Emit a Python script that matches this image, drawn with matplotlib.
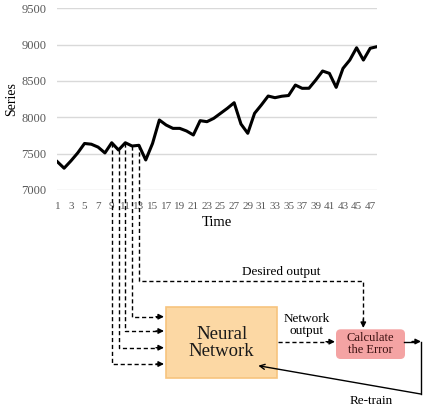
import matplotlib.pyplot as plt
from matplotlib.patches import Rectangle, FancyBboxPatch
import numpy as np

plt.rcParams['font.family'] = ['Liberation Serif', 'DejaVu Serif']

# series
time = list(range(1, 49))
series = [7390, 7300, 7400, 7510, 7640, 7630, 7590, 7510, 7650, 7550,
          7650, 7605, 7615, 7413, 7640, 7963, 7894, 7848, 7848, 7812,
          7757, 7954, 7940, 7986, 8055, 8124, 8201, 7908, 7780, 8055,
          8170, 8293, 8270, 8290, 8300, 8444, 8399, 8400, 8513, 8637,
          8605, 8412, 8673, 8788, 8957, 8788, 8950, 8972]
y_ticks = [7000, 7500, 8000, 8500, 9000, 9500]
x_ticks = list(range(1, 48, 2))
window = [9, 10, 11, 12, 13]   # inputs fed to the network
target = 13                    # desired output point

W, H = 436, 416
fig = plt.figure(figsize=(W / 100, H / 100), dpi=100)

# chart area
ax = fig.add_axes([57.3 / W, 1 - 190 / H, (377 - 57.3) / W, (190 - 8.3) / H])
ax.plot(time, series, color='black', lw=2.2, zorder=3)
ax.set_xlim(1, 48)
ax.set_ylim(7000, 9500)
ax.set_yticks(y_ticks)
ax.set_xticks(x_ticks)
ax.grid(axis='y', color='#d9d9d9', lw=1)
ax.set_axisbelow(True)
for s in ax.spines.values():
    s.set_visible(False)
ax.tick_params(length=0, colors='#595959')
ax.tick_params(axis='y', labelsize=9, pad=8)
ax.tick_params(axis='x', labelsize=8, pad=9)
ax.set_xlabel('Time', fontsize=10.5, labelpad=3)
ax.set_ylabel('Series', fontsize=10)
ax.yaxis.set_label_coords(-0.123, 0.5)

# overlay in pixel coords for the diagram
ov = fig.add_axes([0, 0, 1, 1])
ov.set_xlim(0, W)
ov.set_ylim(H, 0)
ov.axis('off')
ov.patch.set_alpha(0)


def to_px(t, v):
    d = ax.transData.transform((t, v))
    return ov.transData.inverted().transform(d)


dash = dict(color='black', lw=1, ls=(0, (3, 2)))


def head(x0, y0, x1, y1):
    ov.annotate('', xy=(x1, y1), xytext=(x0, y0),
                arrowprops=dict(arrowstyle='-|>', color='black', lw=1,
                                mutation_scale=8, shrinkA=0, shrinkB=0))


# boxes
nn = Rectangle((166, 306.7), 111.3, 71.6, facecolor='#fcd8a4',
               edgecolor='#f7c47e', lw=1.2, zorder=2)
ov.add_patch(nn)
ov.text(221.7, 343, 'Neural\nNetwork', fontsize=13.5, ha='center',
        va='center', linespacing=1.05, color='#1a1a1a', zorder=3)
ce = FancyBboxPatch((336.7, 330), 67.6, 28.3, boxstyle='round,pad=0,rounding_size=4',
                    facecolor='#f4a3a3', edgecolor='#f4a3a3', zorder=2)
ov.add_patch(ce)
ov.text(370.5, 344.2, 'Calculate\nthe Error', fontsize=9, ha='center',
        va='center', color='#3a1010', linespacing=1.0, zorder=3)

# input lines from the window points
levels = [364, 347.7, 331, 316.7]
for t, yl in zip(window[:4], levels):
    x0, y0 = to_px(t, series[t - 1])
    ov.plot([x0, x0, 158], [y0, yl, yl], **dash)
    head(156, yl, 164, yl)

# desired output line
x0, y0 = to_px(target, series[target - 1])
ov.plot([x0, x0, 363.3, 363.3], [y0, 281, 281, 321], **dash)
head(363.3, 319, 363.3, 328)
ov.text(281, 271.5, 'Desired output', fontsize=9.5, ha='center', va='center')

# network output
ov.plot([278, 328], [341.7, 341.7], **dash)
head(326, 341.7, 335, 341.7)
ov.text(306.7, 325, 'Network\noutput', fontsize=9.5, ha='center',
        va='center', linespacing=1.1)

# re-train loop
ov.plot([404.3, 414], [341.5, 341.5], color='black', lw=1)
head(412, 341.5, 421, 341.5)
ov.plot([420.7, 420.7], [341.5, 394], color='black', lw=1)
ov.annotate('', xy=(258.3, 365.7), xytext=(420.7, 394),
            arrowprops=dict(arrowstyle='->', color='black', lw=1,
                            mutation_scale=9, shrinkA=0, shrinkB=0))
ov.text(371, 401.5, 'Re-train', fontsize=9.5, ha='center', va='center')

fig.savefig('out.png', dpi=100)
